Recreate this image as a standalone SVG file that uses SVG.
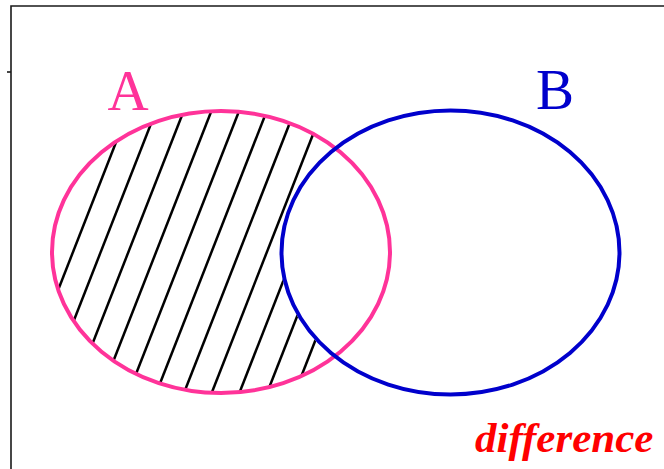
<svg xmlns="http://www.w3.org/2000/svg" width="664" height="469" viewBox="0 0 664 469">
  <style>
    .frame { fill: none; stroke: #1a1a1a; stroke-width: 1.6; }
    .hatch line { stroke: #000; stroke-width: 2.5; }
    .set { fill: none; stroke-width: 4; }
    .lbl { font-family: "Liberation Serif", "Times New Roman", serif; text-anchor: middle; }
  </style>
  <defs>
    <mask id="aMinusB" maskUnits="userSpaceOnUse" x="0" y="0" width="664" height="469">
      <ellipse cx="221" cy="252" rx="169" ry="141" fill="#fff"/>
      <ellipse cx="450.5" cy="252.5" rx="169" ry="142" fill="#000" stroke="#000" stroke-width="4"/>
    </mask>
  </defs>
  <rect width="664" height="469" fill="#fff"/>
  <g id="frame">
    <path class="frame" d="M11 469 V6 H664"/>
    <line class="frame" x1="7" y1="72" x2="11" y2="72"/>
  </g>
  <g id="hatch" class="hatch" mask="url(#aMinusB)">
    <line x1="132.6" y1="100" x2="15" y2="400"/>
    <line x1="160.3" y1="100" x2="42.7" y2="400"/>
    <line x1="188" y1="100" x2="70.4" y2="400"/>
    <line x1="215.7" y1="100" x2="98.1" y2="400"/>
    <line x1="243.4" y1="100" x2="125.8" y2="400"/>
    <line x1="271.1" y1="100" x2="153.5" y2="400"/>
    <line x1="298.8" y1="100" x2="181.2" y2="400"/>
    <line x1="326.5" y1="100" x2="208.9" y2="400"/>
    <line x1="354.2" y1="100" x2="236.6" y2="400"/>
    <line x1="381.9" y1="100" x2="264.3" y2="400"/>
    <line x1="409.6" y1="100" x2="292" y2="400"/>
  </g>
  <g id="setA">
    <ellipse class="set" cx="221" cy="252" rx="169" ry="141" stroke="#FF3399"/>
    <text class="lbl" x="128" y="110" font-size="57" fill="#FF3399">A</text>
  </g>
  <g id="setB">
    <ellipse class="set" cx="450.5" cy="252.5" rx="169" ry="142" stroke="#0000CC"/>
    <text class="lbl" x="555" y="109" font-size="57" fill="#0000CC">B</text>
  </g>
  <g id="caption">
    <text x="475" y="452" font-family="Liberation Serif, 'Times New Roman', serif" font-size="43" font-weight="bold" font-style="italic" fill="#FF0000">difference</text>
  </g>
  <g id="connectors"/>
</svg>
